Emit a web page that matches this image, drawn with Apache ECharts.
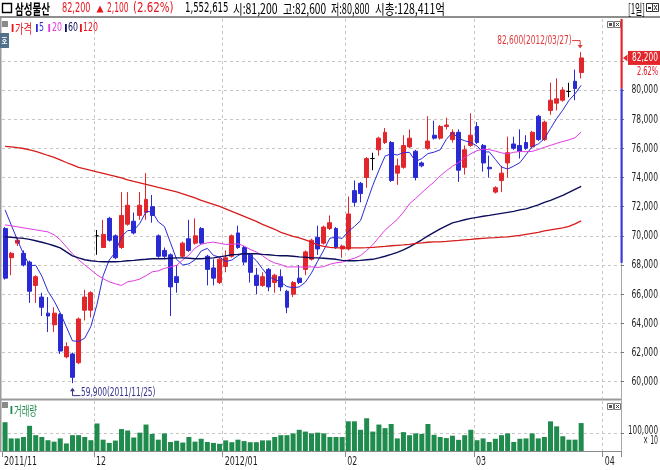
<!DOCTYPE html>
<html><head><meta charset="utf-8">
<script src="https://cdn.jsdelivr.net/npm/echarts@6/dist/echarts.min.js"></script>
<style>html,body{margin:0;padding:0;background:#fff}#chart{width:660px;height:470px}</style>
</head><body><div id="chart"></div>
<script>
// ---------------- data ----------------
const dates = [
'2011/11/10','2011/11/11','2011/11/14','2011/11/15','2011/11/16','2011/11/17','2011/11/18','2011/11/21','2011/11/22','2011/11/23','2011/11/24','2011/11/25','2011/11/28','2011/11/29','2011/11/30',
'2011/12/01','2011/12/02','2011/12/05','2011/12/06','2011/12/07','2011/12/08','2011/12/09','2011/12/12','2011/12/13','2011/12/14','2011/12/15','2011/12/16','2011/12/19','2011/12/20','2011/12/21','2011/12/22','2011/12/23','2011/12/26','2011/12/27','2011/12/28','2011/12/29',
'2012/01/02','2012/01/03','2012/01/04','2012/01/05','2012/01/06','2012/01/09','2012/01/10','2012/01/11','2012/01/12','2012/01/13','2012/01/16','2012/01/17','2012/01/18','2012/01/19','2012/01/20','2012/01/25','2012/01/26','2012/01/27','2012/01/30','2012/01/31',
'2012/02/01','2012/02/02','2012/02/03','2012/02/06','2012/02/07','2012/02/08','2012/02/09','2012/02/10','2012/02/13','2012/02/14','2012/02/15','2012/02/16','2012/02/17','2012/02/20','2012/02/21','2012/02/22','2012/02/23','2012/02/24','2012/02/27','2012/02/28','2012/02/29',
'2012/03/02','2012/03/05','2012/03/06','2012/03/07','2012/03/08','2012/03/09','2012/03/12','2012/03/13','2012/03/14','2012/03/15','2012/03/16','2012/03/19','2012/03/20','2012/03/21','2012/03/22','2012/03/23','2012/03/26','2012/03/27',
'2012/03/28','2012/03/29','2012/03/30','2012/04/02','2012/04/03','2012/04/04'];

const monthStarts = ['2011/11/10','2011/12/01','2012/01/02','2012/02/01','2012/03/02','2012/04/02'];
const monthLabels = ['2011/11','12','2012/01','02','03','04'];

const openP = [70500,68500,69500,68800,68200,66600,65800,64700,63900,64600,
61700,61900,61300,64900,64900,70000,69200,71200,70000,69200,
70800,71000,71400,71600,72000,70000,69000,68700,67200,68600,
69800,69500,70500,68600,67800,66800,67900,68600,70200,69200,
68700,67300,66600,67700,66800,67200,66200,66000,67100,67700,
68400,69900,69500,70500,70500,69100,69100,73100,73600,74000,
75300,75900,76400,76400,74300,74700,76100,75800,75000,76000,
76900,76700,77500,76600,77100,74700,76200,77500,76200,74700,
73000,73800,75000,76300,76200,76400,76100,78200,76600,78600,
79100,79300,79900,80600,81200];
const closeP = [67100,68800,69700,68000,66200,67200,65100,64500,64700,62100,
62400,60300,64300,65800,66100,70000,70100,69700,68500,71400,
72100,70200,72100,72500,71400,68600,68600,66500,66800,69500,
69000,70000,69500,67700,67100,68400,68500,70000,69200,68200,
67500,66600,67200,66500,67300,66500,65100,66800,66800,68900,
69700,69100,70600,70900,69200,69300,71500,72300,72900,75300,
75300,76700,77100,73800,74800,76200,76700,74000,74800,76500,
76700,77500,77600,77100,74500,75900,76900,76400,75000,74600,
73300,74300,75700,76000,75800,76000,77100,76600,77800,79300,
79400,80000,79900,80100,82200];
const lowP = [67000,67300,69300,67900,65400,65400,64500,63400,63400,61900,
61600,59900,61200,64200,64400,68700,69200,69600,68400,69100,
70700,70100,71100,71100,70900,68500,68400,64500,66100,68500,
68900,69400,69400,66600,66600,66700,67500,68500,69100,68000,
66800,66000,66500,66200,66100,66200,64700,65800,66700,67300,
68300,68700,69400,70400,69100,68500,69000,72000,72300,73300,
74500,75500,76300,73700,73500,74600,76000,73800,74700,75900,
76600,76600,77300,76400,73700,74200,76100,76300,74400,74000,
72900,73000,74000,75900,75300,75900,76000,76500,76500,78300,
78600,79200,79500,79300,80800];
const highP = [70600,68900,69900,69000,68300,67300,66100,65800,65100,64700,
62700,62000,64400,66300,66200,70400,71100,71300,70100,73000,
73000,71600,73000,74300,72800,70100,69200,68800,68000,69600,
71100,71200,70600,68700,68400,68500,69000,70100,70700,69300,
68800,67800,67500,67800,67400,67700,66300,66900,68000,69000,
69800,70700,70700,71400,70600,69400,72700,73800,73700,75400,
75700,76800,77400,76500,75300,76900,77300,75900,75100,78200,
77900,77600,78100,77300,77300,76200,78400,77800,76300,75500,
73400,74800,76800,76800,77300,76900,77200,78300,77900,80500,
80800,80200,80500,81400,82600];
// volume in units of 10 shares (axis shows x10)
const volume = [160000,70000,70000,78000,140000,88000,78000,60000,52000,70000,
42000,88000,88000,78000,60000,153000,63000,45000,58000,122000,
114000,75000,102000,147000,95000,63000,98000,50000,57000,47000,
78000,52000,68000,50000,45000,40000,59000,49000,63000,55000,
49000,49000,59000,59000,78000,88000,88000,98000,118000,108000,
98000,102000,98000,78000,78000,78000,165000,165000,118000,182000,
108000,147000,127000,150000,70000,105000,88000,98000,95000,150000,
90000,78000,72000,85000,62000,88000,118000,60000,70000,50000,
68000,88000,98000,50000,68000,70000,98000,70000,78000,165000,
137000,82000,63000,63000,155262];

const ma5 = [71780,70750,69730,68770,67960,67980,67240,66200,65540,64720,
63760,62800,62760,62980,63780,65300,67260,68340,68880,69940,
70360,70380,70860,71660,71660,70960,70640,69520,68380,68000,
68080,68360,68960,69140,68660,68540,68240,68340,68640,68860,
68680,68300,67740,67200,67020,66820,66520,66440,66500,66820,
67460,68260,69020,69840,69900,69820,70300,70640,71040,72260,
73460,74500,75460,75640,75540,75720,75720,75100,75300,75640,
75740,75900,76620,77080,76680,76520,76400,76160,75740,75760,
75240,74720,74580,74780,75020,75560,76120,76300,76660,77360,
78040,78620,79280,79740,80320];
const ma20 = [70750,70690,70620,70550,70480,70410,70340,70270,70070,69730,
69250,68770,68360,68010,67670,67330,67060,66850,66710,66600,
66850,66920,67040,67270,67530,67600,67770,67870,67980,68350,
68680,69160,69420,69520,69570,69490,69410,69420,69460,69300,
69070,68890,68640,68340,68140,68030,67860,67870,67870,67840,
67880,67830,67890,68050,68150,68200,68350,68460,68650,69000,
69390,69900,70390,70760,71130,71620,72200,72560,72960,73340,
73690,74110,74460,74770,75030,75360,75630,75840,75940,75910,
75810,75690,75620,75730,75780,75770,75790,75920,76070,76210,
76340,76470,76580,76730,77120];
const ma60 = [69930,69900,69860,69830,69760,69660,69560,69450,69320,69180,
68900,68630,68490,68360,68290,68250,68220,68220,68220,68250,
68290,68320,68360,68390,68430,68430,68430,68460,68490,68490,
68460,68430,68430,68460,68490,68560,68630,68700,68730,68770,
68770,68770,68730,68700,68660,68630,68630,68600,68560,68530,
68490,68490,68460,68430,68390,68320,68290,68290,68320,68360,
68390,68490,68600,68730,68870,69040,69250,69490,69730,70000,
70240,70480,70690,70890,70990,71100,71200,71270,71340,71400,
71470,71540,71610,71680,71780,71850,71990,72120,72300,72430,
72600,72770,72980,73190,73390];
const ma120 = [76130,76100,76050,75990,75890,75790,75650,75510,75380,75210,
75030,74860,74690,74590,74490,74380,74280,74180,74080,73970,
73840,73730,73630,73530,73430,73320,73220,73120,73010,72880,
72740,72600,72430,72300,72160,72020,71850,71680,71510,71340,
71170,70990,70790,70620,70450,70240,70100,69970,69860,69730,
69560,69380,69280,69210,69180,69180,69180,69180,69180,69190,
69210,69250,69280,69320,69350,69380,69420,69490,69520,69560,
69590,69590,69620,69660,69690,69730,69760,69800,69830,69860,
69880,69910,69930,69980,70030,70100,70170,70240,70340,70410,
70480,70550,70650,70820,71030];

const priceGridTicks = [60000,62000,64000,66000,68000,70000,72000,74000,76000,78000,80000,82000];
const priceAxisLabels = [60000,62000,64000,66000,68000,70000,72000,74000,76000,78000,80000];
const volumeTicks = [100000];
const axisBandValues = [80100, 68150]; // red above first, blue between
const headerTexts = ['삼성물산','82,200','2,100','(2.62%)','1,552,615','시:81,200','고:82,600','저:80,800','시총:128,411억','[1일]'];
const legendNames = ['가격','5','20','60','120'];

// ---------------- style ----------------
const NARROW = '"Liberation Sans Narrow","DejaVu Sans Condensed","Liberation Sans",sans-serif';
const KR = '"Noto Sans CJK KR","Liberation Sans",sans-serif';
const UP = '#e2262b', DOWN = '#2a2ad4', RED = '#e8141e';
const GRID_C = '#c6c6c6';
const priceMin = 58880, priceMax = 84870, volMax = 278000;
const fmt = v => Math.round(v).toLocaleString('en-US');
const isMonthStart = (i, v) => monthStarts.indexOf(v) >= 0;

const candles = openP.map((o, i) => [o, closeP[i], lowP[i], highP[i]]);

const chart = echarts.init(document.getElementById('chart'), null, {renderer: 'canvas'});
const option = {
  animation: false,
  backgroundColor: '#fff',
  textStyle: {fontFamily: NARROW},
  grid: [
    {left: 2, top: 19, width: 619, height: 379, outerBoundsMode: 'none'},
    {left: 2, top: 401, width: 619, height: 50, outerBoundsMode: 'none'}
  ],
  xAxis: [
    {type: 'category', gridIndex: 0, data: dates, boundaryGap: true,
     axisLine: {show: false}, axisTick: {show: false}, axisLabel: {show: false},
     splitLine: {show: true, interval: (i, v) => i > 0 && isMonthStart(i, v), lineStyle: {color: GRID_C, type: [3, 3]}}},
    {type: 'category', gridIndex: 1, data: dates, boundaryGap: true,
     axisLine: {show: true, lineStyle: {color: '#8a8a8a'}},
     axisTick: {show: true, interval: isMonthStart, length: 6, lineStyle: {color: '#8a8a8a'}},
     axisLabel: {show: false},
     splitLine: {show: true, interval: (i, v) => i > 0 && isMonthStart(i, v), lineStyle: {color: GRID_C, type: [3, 3]}}}
  ],
  yAxis: [
    {type: 'value', gridIndex: 0, position: 'right', min: priceMin, max: priceMax,
     axisLine: {show: true, lineStyle: {color: '#a8a8a8'}},
     axisTick: {show: true, customValues: priceGridTicks, length: 3, lineStyle: {color: '#7a7a7a'}},
     axisLabel: {show: false},
     splitLine: {show: true, lineStyle: {color: GRID_C, type: [3, 3]}}},
    {type: 'value', gridIndex: 1, position: 'right', min: 0, max: volMax,
     axisLine: {show: true, lineStyle: {color: '#a8a8a8'}},
     axisTick: {show: true, customValues: volumeTicks, length: 3, lineStyle: {color: '#7a7a7a'}},
     axisLabel: {show: false},
     splitLine: {show: true, lineStyle: {color: GRID_C, type: [3, 3]}}}
  ],
  series: [
    {type: 'candlestick', name: '가격', xAxisIndex: 0, yAxisIndex: 0, data: candles, barWidth: 4.4, z: 3,
     itemStyle: {color: UP, color0: DOWN, borderColor: UP, borderColor0: DOWN, borderColorDoji: '#000', borderWidth: 1}},
    {type: 'line', name: '5', xAxisIndex: 0, yAxisIndex: 0, data: ma5, symbol: 'none', z: 4,
     lineStyle: {color: '#2b2bd8', width: 1}},
    {type: 'line', name: '20', xAxisIndex: 0, yAxisIndex: 0, data: ma20, symbol: 'none', z: 4,
     lineStyle: {color: '#e23ae2', width: 1}},
    {type: 'line', name: '60', xAxisIndex: 0, yAxisIndex: 0, data: ma60, symbol: 'none', z: 4,
     lineStyle: {color: '#0c0c5c', width: 1.4}},
    {type: 'line', name: '120', xAxisIndex: 0, yAxisIndex: 0, data: ma120, symbol: 'none', z: 4,
     lineStyle: {color: '#d81c1c', width: 1.3}},
    {type: 'bar', name: '거래량', xAxisIndex: 1, yAxisIndex: 1, data: volume, barWidth: 5,
     itemStyle: {color: '#1f8b4c'}}
  ]
};
chart.setOption(option);

// ---------- helpers for decorations ----------
const mctx = document.createElement('canvas').getContext('2d');
function fitText(x0, x1, yc, text, color, size, weight, family) {
  const font = (weight || 'normal') + ' ' + size + 'px ' + (family || NARROW);
  mctx.font = font;
  const w = mctx.measureText(text).width || 1;
  return {type: 'text', x: x0, y: yc, scaleX: (x1 - x0) / w, silent: true, z: 100,
          style: {text: text, fill: color, font: font, align: 'left', verticalAlign: 'middle'}};
}
function rect(x, y, w, h, fill, z) {
  return {type: 'rect', shape: {x: x, y: y, width: w, height: h}, style: {fill: fill}, silent: true, z: z || 90};
}
function box(x, y, w, h, stroke) {
  return {type: 'rect', shape: {x: x, y: y, width: w, height: h}, style: {fill: '#fff', stroke: stroke, lineWidth: 1}, silent: true, z: 95};
}
function line(pts, color, w) {
  return {type: 'polyline', shape: {points: pts}, style: {stroke: color, lineWidth: w || 1, fill: null}, silent: true, z: 100};
}
function poly(pts, color) {
  return {type: 'polygon', shape: {points: pts}, style: {fill: color}, silent: true, z: 100};
}
function iconPair(x, y) {
  return [box(x + 0.5, y + 0.5, 6, 6, '#777'), rect(x + 2, y + 2, 3, 3, '#555', 96),
          box(x + 7.5, y + 0.5, 6, 6, '#777'),
          line([[x + 9, y + 2], [x + 12, y + 5]], '#444', 1), line([[x + 12, y + 2], [x + 9, y + 5]], '#444', 1)];
}
const px = (i, v) => chart.convertToPixel({gridIndex: 0}, [i, v]);
const pxv = (i, v) => chart.convertToPixel({gridIndex: 1}, [i, v]);

const g = [];
// header
g.push(rect(0, 16, 660, 2, '#8e8e8e', 90));
g.push({type: 'rect', shape: {x: 2.5, y: 3.5, width: 9, height: 9}, style: {fill: 'none', stroke: '#000', lineWidth: 1.4}, silent: true, z: 100});
const hdrSpans = [[15, 50], [62, 90.5], [107, 128.5], [133, 173.5], [185, 228.5], [233, 277.5], [283, 326], [331, 369.5], [375, 445], [628, 645]];
const hdrColors = ['#000', RED, RED, RED, '#000', '#000', '#000', '#000', '#000', '#000'];
headerTexts.forEach((t, k) => {
  g.push(fitText(hdrSpans[k][0], hdrSpans[k][1], 8.5, t, hdrColors[k], 14, k === 0 ? 'bold' : 'normal', k === 0 || k >= 5 ? KR : NARROW));
});
g.push(poly([[96.5, 12.5], [103.5, 12.5], [100, 5.5]], RED));
g.push(box(646.5, 3.5, 6, 8, '#333'), rect(648, 7, 3, 2, '#333', 96), box(652.5, 3.5, 6, 8, '#333'),
       line([[654, 5], [657, 10]], '#333', 1), line([[657, 5], [654, 10]], '#333', 1));

// panel borders
g.push(rect(0, 18, 1.5, 434, '#9a9a9a', 90));
g.push(rect(0, 398.5, 622, 2, '#9a9a9a', 90));

// legend (price panel)
g.push(rect(2, 21, 6, 6, '#8a8a8a'));
const legColors = [RED, '#2b2bd8', '#e23ae2', '#0c0c5c', RED];
const legBar = [11.7, 36, 48.3, 65, 80];
const legSpan = [[15, 32], [39, 44], [52, 62], [68, 78], [83, 98]];
legendNames.forEach((n, k) => {
  g.push(rect(legBar[k], 24, 1.8, 8, legColors[k], 100));
  g.push(fitText(legSpan[k][0], legSpan[k][1], 28, n, legColors[k], 13, 'normal', k === 0 ? KR : NARROW));
});
g.push(rect(0, 33, 9, 15, '#50708c', 100));
g.push({type: 'text', x: 4.5, y: 40.5, silent: true, z: 101, scaleX: 0.8,
        style: {text: '호', fill: '#fff', font: 'bold 8px ' + KR, align: 'center', verticalAlign: 'middle'}});
g.push(...iconPair(607, 21));

// legend (volume panel)
g.push(rect(2, 402, 6, 6, '#8a8a8a'));
g.push(rect(10.5, 406, 1.8, 8, '#1f8b4c', 100));
g.push(fitText(14, 37, 410, '거래량', '#1f8b4c', 13, 'normal', KR));
g.push(...iconPair(607, 403));

// price axis labels (condensed, placed through the axis scale)
priceAxisLabels.forEach(v => {
  const y = px(0, v)[1];
  g.push(fitText(631.5, 658, y, fmt(v), '#1e1e1e', 13, 'normal', NARROW));
});
// volume axis label
volumeTicks.forEach(v => {
  const y = pxv(0, v)[1];
  g.push(fitText(628, 658, y - 2, fmt(v), '#1e1e1e', 13, 'normal', NARROW));
  g.push(fitText(643, 658, y + 8, '× 10', '#1e1e1e', 12, 'normal', NARROW));
});
// x axis labels
monthStarts.forEach((d, k) => {
  const i = dates.indexOf(d);
  const x = pxv(i, 0)[0];
  const lab = monthLabels[k];
  const w = lab.length > 2 ? 33 : 10;
  g.push(fitText(x - 1, x - 1 + w, 462, lab, '#1e1e1e', 13, 'normal', NARROW));
});

// right axis colour band
const gridTop = 19;
const yBand1 = px(0, axisBandValues[0])[1], yBand2 = px(0, axisBandValues[1])[1];
g.push(rect(620.5, gridTop, 2.2, yBand1 - gridTop, '#e2262b', 97));
g.push(rect(620.5, yBand1, 2.2, yBand2 - yBand1, '#3a3ad8', 97));

// current price box
const last = closeP.length - 1;
const pLast = px(last, closeP[last]);
const chg = (closeP[last] - closeP[last - 1]) / closeP[last - 1] * 100;
g.push(rect(628, pLast[1] - 7, 32, 14, '#e2262b', 98));
g.push(fitText(632, 658, pLast[1], fmt(closeP[last]), '#fff', 13, 'normal', NARROW));
g.push(fitText(637, 658, pLast[1] + 14, chg.toFixed(2) + '%', RED, 13, 'normal', NARROW));
g.push(poly([[623, pLast[1]], [627.5, pLast[1] - 3.5], [627.5, pLast[1] + 3.5]], '#e2262b'));

// high / low annotations
let iHi = 0, iLo = 0;
highP.forEach((v, i) => { if (v >= highP[iHi]) iHi = i; });
lowP.forEach((v, i) => { if (v < lowP[iLo]) iLo = i; });
const pHi = px(iHi, highP[iHi]);
g.push(fitText(pHi[0] - 84, pHi[0] - 9.5, pHi[1] - 11, fmt(highP[iHi]) + '(' + dates[iHi] + ')', '#e0383a', 12, 'normal', NARROW));
g.push(line([[pHi[0] - 9, pHi[1] - 11.5], [pHi[0] - 1, pHi[1] - 11.5], [pHi[0] - 1, pHi[1] - 6]], '#e0383a', 1));
g.push(poly([[pHi[0] - 3.5, pHi[1] - 7], [pHi[0] + 1.5, pHi[1] - 7], [pHi[0] - 1, pHi[1] - 3.5]], '#e0383a'));
const pLo = px(iLo, lowP[iLo]);
g.push(line([[pLo[0], pLo[1] + 6], [pLo[0], pLo[1] + 12.5], [pLo[0] + 8, pLo[1] + 12.5]], '#33338e', 1));
g.push(poly([[pLo[0] - 2.5, pLo[1] + 8], [pLo[0] + 2.5, pLo[1] + 8], [pLo[0], pLo[1] + 4.5]], '#33338e'));
g.push(fitText(pLo[0] + 8.5, pLo[0] + 83, pLo[1] + 9.5, fmt(lowP[iLo]) + '(' + dates[iLo] + ')', '#33338e', 12, 'normal', NARROW));

chart.setOption({graphic: g});
</script></body></html>
